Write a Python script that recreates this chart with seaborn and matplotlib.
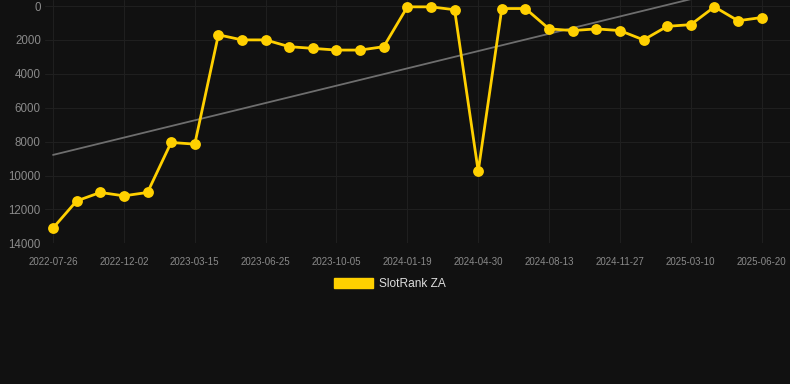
import numpy as np
import pandas as pd
import matplotlib
matplotlib.use('Agg')
import matplotlib.pyplot as plt
import seaborn as sns
from matplotlib.patches import Patch

# Данные: даты (категории) и позиции в рейтинге
dates = [
    '2022-07-26', '2022-09-07', '2022-10-20', '2022-12-02', '2023-01-06',
    '2023-02-09', '2023-03-15', '2023-04-18', '2023-05-22', '2023-06-25',
    '2023-07-29', '2023-08-31', '2023-10-05', '2023-11-09', '2023-12-14',
    '2024-01-19', '2024-02-22', '2024-03-27', '2024-04-30', '2024-06-04',
    '2024-07-09', '2024-08-13', '2024-09-17', '2024-10-22', '2024-11-27',
    '2024-12-31', '2025-02-03', '2025-03-10', '2025-04-13', '2025-05-17',
    '2025-06-20',
]
rank = [
    13100, 11500, 11000, 11200, 11000, 8050, 8150, 1700, 2000, 2000,
    2400, 2500, 2600, 2600, 2400, 50, 50, 220, 9750, 150,
    150, 1350, 1450, 1350, 1450, 2000, 1200, 1100, 50, 870,
    680,
]
series_name = 'SlotRank ZA'
y_ticks = [0, 2000, 4000, 6000, 8000, 10000, 12000, 14000]

BG = '#111111'
GRID = '#1f1f1f'
YELLOW = '#FFD000'

df = pd.DataFrame({'date': dates, 'rank': rank})
df['idx'] = np.arange(len(df))

sns.set_style('dark', rc={
    'axes.facecolor': BG,
    'figure.facecolor': BG,
    'grid.color': GRID,
    'axes.edgecolor': BG,
})
plt.rcParams['font.family'] = ['Liberation Sans', 'DejaVu Sans']

fig = plt.figure(figsize=(7.9, 3.84), dpi=100)
ax = fig.add_axes([45 / 790, 1 - 243.3 / 384, 1 - 45 / 790, 243.3 / 384])

# Линия тренда (линейная регрессия)
sns.regplot(x='idx', y='rank', data=df, ax=ax, scatter=False, ci=None,
            line_kws={'color': '#6e6e6e', 'linewidth': 1.3, 'zorder': 2})

# Основная линия
sns.lineplot(x='idx', y='rank', data=df, ax=ax, color=YELLOW, linewidth=2.0,
             marker='o', markersize=7.8, markeredgewidth=0, zorder=3)

ax.set_xlim(-0.34, 31.2)
ax.set_ylim(14000, -354)
ax.set_yticks(y_ticks)
ax.set_yticklabels([str(v) for v in y_ticks])
tick_idx = df['idx'][::3]
ax.set_xticks(tick_idx)
ax.set_xticklabels(df['date'][::3])

ax.grid(True, color=GRID, linewidth=0.8)
ax.tick_params(axis='x', colors='#8a8a8a', labelsize=7, length=4, color=GRID, pad=6)
ax.tick_params(axis='y', colors='#8a8a8a', labelsize=8.3, length=0, pad=3)
ax.set_xlabel('')
ax.set_ylabel('')
for s in ax.spines.values():
    s.set_visible(False)

handles = [Patch(facecolor=YELLOW, edgecolor=YELLOW, label=series_name)]
leg = fig.legend(handles=handles, loc='center', bbox_to_anchor=(390 / 790, 1 - 284 / 384),
                 frameon=False, fontsize=8.6, handlelength=3.3, handleheight=0.9,
                 handletextpad=0.5)
for t in leg.get_texts():
    t.set_color('#dddddd')

fig.savefig('out.png', dpi=100, facecolor=BG)
